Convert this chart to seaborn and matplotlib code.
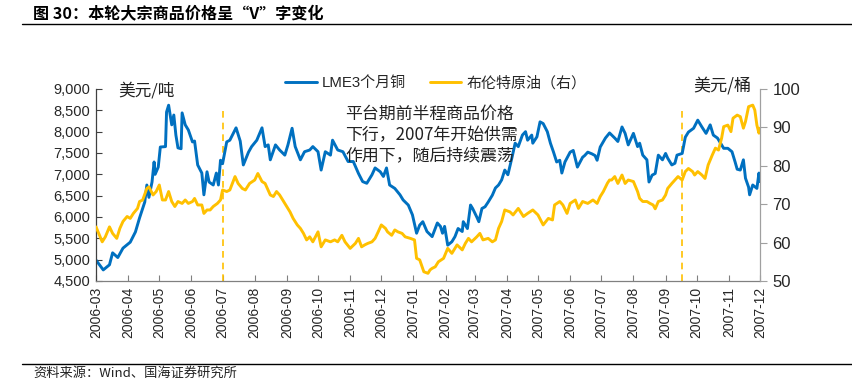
import matplotlib
matplotlib.use("Agg")
import matplotlib.pyplot as plt
import matplotlib.dates as mdates
from matplotlib.lines import Line2D
from matplotlib.ticker import FuncFormatter
import seaborn as sns
import pandas as pd

# ---------------- data ----------------
copper_dates = [
    "2006-03-01", "2006-03-08", "2006-03-14", "2006-03-17", "2006-03-22", "2006-03-27",
    "2006-04-03", "2006-04-08", "2006-04-12", "2006-04-17", "2006-04-19", "2006-04-21",
    "2006-04-24", "2006-04-26", "2006-04-27", "2006-04-30", "2006-05-02", "2006-05-07",
    "2006-05-08", "2006-05-10", "2006-05-13", "2006-05-15", "2006-05-17", "2006-05-19",
    "2006-05-22", "2006-05-23", "2006-05-26", "2006-05-29", "2006-06-02", "2006-06-04",
    "2006-06-07", "2006-06-11", "2006-06-13", "2006-06-16", "2006-06-18", "2006-06-22",
    "2006-06-25", "2006-06-27", "2006-06-29", "2006-07-01", "2006-07-05", "2006-07-08",
    "2006-07-14", "2006-07-18", "2006-07-21", "2006-07-26", "2006-07-29", "2006-08-03",
    "2006-08-08", "2006-08-11", "2006-08-14", "2006-08-16", "2006-08-21", "2006-08-25",
    "2006-08-30", "2006-09-02", "2006-09-06", "2006-09-09", "2006-09-14", "2006-09-18",
    "2006-09-23", "2006-09-26", "2006-10-01", "2006-10-04", "2006-10-08", "2006-10-13",
    "2006-10-15", "2006-10-20", "2006-10-25", "2006-10-30", "2006-11-04", "2006-11-09",
    "2006-11-13", "2006-11-17", "2006-11-22", "2006-11-25", "2006-11-30", "2006-12-03",
    "2006-12-06", "2006-12-09", "2006-12-14", "2006-12-19", "2006-12-22", "2006-12-27",
    "2006-12-31", "2007-01-04", "2007-01-07", "2007-01-10", "2007-01-14", "2007-01-19",
    "2007-01-24", "2007-01-27", "2007-01-29", "2007-01-31", "2007-02-03", "2007-02-07",
    "2007-02-10", "2007-02-13", "2007-02-17", "2007-02-18", "2007-02-22", "2007-02-25",
    "2007-02-27", "2007-03-03", "2007-03-05", "2007-03-08", "2007-03-11", "2007-03-14",
    "2007-03-18", "2007-03-21", "2007-03-24", "2007-03-27", "2007-03-30", "2007-04-02",
    "2007-04-06", "2007-04-09", "2007-04-12", "2007-04-16", "2007-04-19", "2007-04-21",
    "2007-04-25", "2007-04-26", "2007-04-30", "2007-05-03", "2007-05-06", "2007-05-10",
    "2007-05-13", "2007-05-16", "2007-05-19", "2007-05-22", "2007-05-24", "2007-05-27",
    "2007-06-01", "2007-06-04", "2007-06-08", "2007-06-13", "2007-06-15", "2007-06-18",
    "2007-06-22", "2007-06-25", "2007-06-27", "2007-06-30", "2007-07-05", "2007-07-09",
    "2007-07-14", "2007-07-17", "2007-07-21", "2007-07-24", "2007-07-27", "2007-08-01",
    "2007-08-05", "2007-08-07", "2007-08-10", "2007-08-14", "2007-08-16", "2007-08-19",
    "2007-08-22", "2007-08-25", "2007-08-29", "2007-09-01", "2007-09-03", "2007-09-07",
    "2007-09-10", "2007-09-12", "2007-09-17", "2007-09-20", "2007-09-23", "2007-09-28",
    "2007-10-02", "2007-10-06", "2007-10-10", "2007-10-14", "2007-10-17", "2007-10-21",
    "2007-10-24", "2007-10-27", "2007-10-31", "2007-11-04", "2007-11-07", "2007-11-09",
    "2007-11-12", "2007-11-15", "2007-11-17", "2007-11-20", "2007-11-21", "2007-11-24",
    "2007-11-26", "2007-11-28", "2007-11-30", "2007-12-01",
]
copper_values = [
    4990, 4760, 4880, 5160, 5050, 5270,
    5410, 5650, 5980, 6350, 6750, 6460,
    6820, 7290, 7000, 7170, 7640, 7650,
    8460, 8620, 8160, 8390, 7920, 7620,
    7600, 8440, 8160, 8040, 7760, 7780,
    7220, 7030, 6520, 7060, 6820, 6750,
    7030, 6750, 7330, 7250, 7760, 7800,
    8090, 7780, 7220, 7520, 7650, 7800,
    8090, 7650, 7690, 7340, 7690, 7570,
    7450, 7690, 8080, 7650, 7340, 7530,
    7570, 7650, 7530, 7100, 7530, 7450,
    7800, 7570, 7530, 7300, 7300, 7020,
    6830, 6790, 6990, 7150, 7060, 6950,
    7150, 6750, 6670, 6520, 6400, 6280,
    6050, 5620, 5810, 5890, 5660, 5540,
    5860, 5780, 5620, 5780, 5340, 5420,
    5540, 5730, 5660, 5890, 5730, 6280,
    6200, 6000, 5890, 6200, 6240, 6350,
    6510, 6680, 6750, 6870, 7100, 6990,
    7400, 7730, 7650, 7920, 8000, 7800,
    7920, 7730, 7880, 8230, 8190, 8000,
    7730, 7520, 7290, 7330, 7030, 7290,
    7520, 7560, 7170, 7400, 7440, 7520,
    7480, 7440, 7330, 7640, 7850, 7970,
    7850, 7770, 8110, 7960, 7690, 7960,
    7650, 7730, 7450, 7340, 6820, 6980,
    7020, 7450, 7340, 7490, 7380, 7220,
    7260, 7450, 7490, 7870, 7990, 8080,
    8270, 8110, 7960, 8160, 7920, 7850,
    7730, 7610, 7610, 7530, 7290, 7120,
    7100, 7340, 6910, 6700, 6520, 6750,
    6710, 6670, 7030, 6830,
]

oil_dates = [
    "2006-03-01", "2006-03-07", "2006-03-10", "2006-03-14", "2006-03-17", "2006-03-21",
    "2006-03-24", "2006-03-27", "2006-03-31", "2006-04-03", "2006-04-06", "2006-04-10",
    "2006-04-12", "2006-04-15", "2006-04-19", "2006-04-21", "2006-04-25", "2006-04-28",
    "2006-05-01", "2006-05-04", "2006-05-07", "2006-05-10", "2006-05-13", "2006-05-16",
    "2006-05-19", "2006-05-23", "2006-05-26", "2006-05-29", "2006-06-02", "2006-06-04",
    "2006-06-07", "2006-06-11", "2006-06-13", "2006-06-16", "2006-06-19", "2006-06-22",
    "2006-06-26", "2006-06-29", "2006-07-01", "2006-07-05", "2006-07-08", "2006-07-13",
    "2006-07-16", "2006-07-20", "2006-07-23", "2006-07-27", "2006-08-01", "2006-08-04",
    "2006-08-08", "2006-08-11", "2006-08-16", "2006-08-19", "2006-08-22", "2006-08-25",
    "2006-08-30", "2006-09-04", "2006-09-07", "2006-09-11", "2006-09-14", "2006-09-17",
    "2006-09-20", "2006-09-23", "2006-09-26", "2006-10-01", "2006-10-04", "2006-10-08",
    "2006-10-13", "2006-10-17", "2006-10-20", "2006-10-24", "2006-10-27", "2006-11-01",
    "2006-11-06", "2006-11-09", "2006-11-12", "2006-11-15", "2006-11-18", "2006-11-22",
    "2006-11-25", "2006-11-28", "2006-12-01", "2006-12-05", "2006-12-07", "2006-12-11",
    "2006-12-14", "2006-12-17", "2006-12-21", "2006-12-24", "2006-12-29", "2007-01-02",
    "2007-01-04", "2007-01-07", "2007-01-11", "2007-01-15", "2007-01-17", "2007-01-19",
    "2007-01-22", "2007-01-25", "2007-01-30", "2007-02-03", "2007-02-07", "2007-02-12",
    "2007-02-17", "2007-02-20", "2007-02-23", "2007-02-26", "2007-03-03", "2007-03-06",
    "2007-03-09", "2007-03-14", "2007-03-18", "2007-03-21", "2007-03-24", "2007-03-27",
    "2007-03-30", "2007-04-04", "2007-04-07", "2007-04-12", "2007-04-17", "2007-04-21",
    "2007-04-26", "2007-05-01", "2007-05-06", "2007-05-11", "2007-05-15", "2007-05-17",
    "2007-05-22", "2007-05-25", "2007-05-29", "2007-06-01", "2007-06-06", "2007-06-09",
    "2007-06-13", "2007-06-18", "2007-06-23", "2007-06-27", "2007-06-30", "2007-07-03",
    "2007-07-07", "2007-07-09", "2007-07-11", "2007-07-14", "2007-07-17", "2007-07-21",
    "2007-07-24", "2007-07-27", "2007-08-01", "2007-08-05", "2007-08-07", "2007-08-10",
    "2007-08-14", "2007-08-17", "2007-08-20", "2007-08-22", "2007-08-25", "2007-08-29",
    "2007-09-01", "2007-09-03", "2007-09-07", "2007-09-10", "2007-09-13", "2007-09-17",
    "2007-09-20", "2007-09-23", "2007-09-27", "2007-09-29", "2007-10-02", "2007-10-06",
    "2007-10-09", "2007-10-12", "2007-10-16", "2007-10-19", "2007-10-22", "2007-10-25",
    "2007-10-27", "2007-10-31", "2007-11-03", "2007-11-05", "2007-11-09", "2007-11-12",
    "2007-11-15", "2007-11-17", "2007-11-20", "2007-11-24", "2007-11-26", "2007-11-28",
    "2007-11-30", "2007-12-01",
]
oil_values = [
    64.1, 60.2, 61.5, 64.1, 62.4, 61.1,
    63.7, 65.5, 66.8, 66.3, 67.6, 68.9,
    70.7, 71.1, 74.1, 74.5, 72.4, 73.3,
    75.0, 71.1, 71.1, 73.3, 70.7, 69.4,
    70.7, 70.2, 71.1, 70.2, 70.7, 71.5,
    69.8, 69.8, 67.6, 68.5, 68.5, 69.4,
    70.2, 71.1, 73.7, 73.3, 73.7, 77.2,
    75.4, 74.1, 73.7, 75.4, 76.3, 78.0,
    75.9, 75.4, 72.4, 72.0, 73.3, 72.4,
    70.2, 68.0, 66.3, 64.6, 63.7, 62.4,
    60.7, 61.5, 60.2, 62.8, 58.9, 60.7,
    60.2, 60.7, 60.2, 61.9, 60.2, 58.5,
    59.8, 61.1, 58.9, 59.4, 59.8, 60.2,
    61.1, 62.8, 64.6, 63.7, 62.8, 61.9,
    63.3, 62.8, 62.4, 61.5, 61.1, 60.7,
    55.9, 55.5, 52.4, 52.0, 52.9, 53.3,
    53.7, 55.0, 55.9, 58.5, 57.2, 59.4,
    58.1, 59.8, 61.1, 60.2, 61.5, 62.4,
    60.7, 61.1, 60.2, 60.7, 63.7, 65.5,
    68.5, 68.0, 67.2, 68.9, 66.8, 67.6,
    68.5, 67.2, 64.6, 66.3, 65.9, 69.8,
    70.7, 69.8, 67.6, 70.2, 71.1, 68.9,
    70.7, 70.2, 71.1, 70.2, 72.0, 73.3,
    75.5, 76.3, 76.3, 77.2, 75.4, 77.6,
    75.4, 76.3, 75.9, 73.3, 71.5, 70.7,
    70.7, 70.2, 69.8, 68.8, 70.7, 71.1,
    72.4, 74.1, 75.4, 76.3, 77.2, 76.3,
    78.5, 79.3, 78.5, 77.6, 78.5, 77.6,
    76.7, 80.2, 82.8, 84.6, 84.1, 87.2,
    90.2, 90.6, 88.9, 92.4, 93.2, 92.8,
    89.8, 91.5, 95.4, 95.8, 94.5, 90.6,
    88.5, 89.8,
]

phase_dates = ["2006-07-01", "2007-09-17"]
phase_top = 8500
left_ticks = [4500, 5000, 5500, 6000, 6500, 7000, 7500, 8000, 8500, 9000]
right_ticks = [50, 60, 70, 80, 90, 100]
x_start, x_end = "2006-03-01", "2007-12-01"

copper_label = "LME3个月铜"
oil_label = "布伦特原油（右）"
title_text = "图 30：本轮大宗商品价格呈“V”字变化"
left_unit = "美元/吨"
right_unit = "美元/桶"
note_lines = ["平台期前半程商品价格", "下行，2007年开始供需", "作用下，随后持续震荡"]
source_text = "资料来源：Wind、国海证券研究所"

BLUE = "#0070C0"
GOLD = "#FFC000"

cu_df = pd.DataFrame({"date": pd.to_datetime(copper_dates), "value": copper_values})
oil_df = pd.DataFrame({"date": pd.to_datetime(oil_dates), "value": oil_values})

# ---------------- drawing ----------------
sns.set_theme(style="white")
plt.rcParams["font.family"] = ["Liberation Sans", "Noto Sans CJK SC"]
plt.rcParams["axes.unicode_minus"] = False
CJK = ["Noto Sans CJK SC", "DejaVu Sans"]

W, H = 852, 381
fig = plt.figure(figsize=(W / 100, H / 100), dpi=100)
fig.patch.set_facecolor("white")

def fx(px):
    return px / W

def fy(py):
    return 1 - py / H

ax = fig.add_axes([fx(96), fy(281), fx(760) - fx(96), fy(89) - fy(281)])
ax.set_facecolor("white")
sns.lineplot(data=cu_df, x="date", y="value", ax=ax, color=BLUE, linewidth=2.1,
             estimator=None, sort=False, legend=False)
ax.set_ylim(4500, 9000)
ax.set_yticks(left_ticks)
ax.yaxis.set_major_formatter(FuncFormatter(lambda v, p: f"{int(v):,}"))
ax.set_xlim(pd.Timestamp(x_start), pd.Timestamp(x_end))
ax.xaxis.set_major_locator(mdates.MonthLocator())
ax.xaxis.set_major_formatter(mdates.DateFormatter("%Y-%m"))
ax.set_xlabel("")
ax.set_ylabel("")
ax.tick_params(axis="x", direction="in", length=4, width=0.8, color="#808080",
               labelsize=10, labelrotation=90, pad=4, bottom=True)
ax.tick_params(axis="y", direction="in", length=4, width=0.8, color="#404040",
               labelsize=10.5, pad=4, left=True)
for lab in ax.get_xticklabels():
    lab.set_verticalalignment("top")

for d in phase_dates:
    ax.vlines(pd.Timestamp(d), 4500, phase_top, colors=GOLD,
              linestyles=(0, (4, 3)), linewidth=1.2, zorder=1)

ax2 = ax.twinx()
sns.lineplot(data=oil_df, x="date", y="value", ax=ax2, color=GOLD, linewidth=2.1,
             estimator=None, sort=False, legend=False)
ax2.set_ylim(50, 100)
ax2.set_yticks(right_ticks)
ax2.set_ylabel("")
ax2.set_xlim(pd.Timestamp(x_start), pd.Timestamp(x_end))
ax2.tick_params(axis="y", direction="out", length=5, width=0.8, color="#A0A0A0",
                labelsize=12, pad=4, right=True)

for a in (ax, ax2):
    a.spines["top"].set_visible(False)
ax.spines["left"].set_color("#404040")
ax.spines["bottom"].set_color("#808080")
ax.spines["right"].set_visible(False)
ax2.spines["left"].set_visible(False)
ax2.spines["bottom"].set_visible(False)
ax2.spines["right"].set_color("#A0A0A0")
for a in (ax, ax2):
    for s in a.spines.values():
        s.set_linewidth(0.9)

# legend
handles = [Line2D([], [], color=BLUE, lw=2.1), Line2D([], [], color=GOLD, lw=2.1)]
leg = fig.legend(handles, [copper_label, oil_label], ncol=2, frameon=False,
                 loc="center left", bbox_to_anchor=(fx(285), fy(83)),
                 borderpad=0, borderaxespad=0, handlelength=2.1, handletextpad=0.35,
                 columnspacing=1.6,
                 prop={"size": 10.8, "family": ["Liberation Sans", "Noto Sans CJK SC"]})

# unit labels
fig.text(fx(118), fy(91), left_unit, fontsize=12, family=CJK, color="#222222",
         ha="left", va="center")
fig.text(fx(693), fy(86), right_unit, fontsize=12.3, family=CJK, color="#222222",
         ha="left", va="center")

# annotation
for i, line in enumerate(note_lines):
    fig.text(fx(345), fy(114 + 21 * i), line, fontsize=12.2,
             family=["Noto Sans CJK SC", "DejaVu Sans"], color="#222222",
             ha="left", va="center")

# title and source
fig.text(fx(33), fy(14), title_text, fontsize=11.6, fontweight="bold", family=CJK,
         ha="left", va="center", color="black")
fig.add_artist(Line2D([fx(22), 1.0], [fy(24), fy(24)], color="black", lw=1.0))
fig.add_artist(Line2D([fx(22), 1.0], [fy(364), fy(364)], color="black", lw=1.0))
fig.text(fx(33), fy(373), source_text, fontsize=9.5, family=CJK,
         ha="left", va="center", color="#222222")

fig.savefig("out.png", dpi=100, facecolor="white")
